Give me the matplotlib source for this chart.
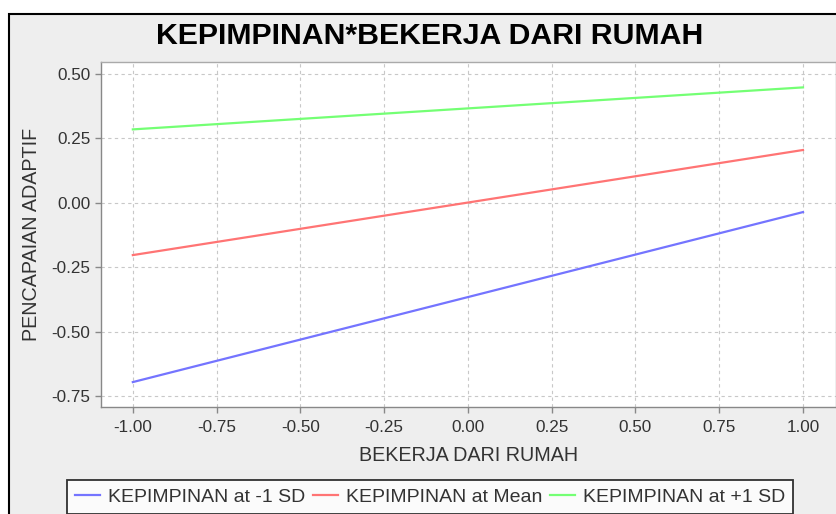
import numpy as np
import matplotlib.pyplot as plt
import matplotlib.patches as patches

plt.rcParams['font.family'] = ['Liberation Sans', 'DejaVu Sans']

# data
x_vals = [-1.0, 1.0]
low_sd = [-0.696, -0.036]
mean_sd = [-0.203, 0.205]
high_sd = [0.285, 0.448]
series_names = ['KEPIMPINAN at -1 SD', 'KEPIMPINAN at Mean', 'KEPIMPINAN at +1 SD']
x_ticks = [-1.0, -0.75, -0.5, -0.25, 0.0, 0.25, 0.5, 0.75, 1.0]
y_ticks = [-0.75, -0.5, -0.25, 0.0, 0.25, 0.5]

W, H = 837, 514
fig = plt.figure(figsize=(W / 100, H / 100), dpi=100)
fig.patch.set_facecolor('white')

# grey chart panel with black frame (runs off right/bottom edge)
frame = patches.Rectangle((9 / W, -0.1), 1.0, 1 - 14 / H + 0.1, transform=fig.transFigure,
                          facecolor='#eeeeee', edgecolor='black', linewidth=1.5, zorder=-10)
fig.patches.append(frame)

left, right, top, bottom = 101, 836, 62, 407
ax = fig.add_axes([left / W, 1 - bottom / H, (right - left) / W, (bottom - top) / H])
ax.set_facecolor('white')

colors = ['#7474ff', '#ff7474', '#74ff74']
for ys, c, name in zip([low_sd, mean_sd, high_sd], colors, series_names):
    ax.plot(x_vals, ys, color=c, linewidth=1.6, label=name)

ax.set_xlim(-1.095, 1.0985)
ax.set_ylim(-0.7927, 0.5466)
ax.set_xticks(x_ticks)
ax.set_yticks(y_ticks)
ax.set_xticklabels([f'{v:.2f}' for v in x_ticks])
ax.set_yticklabels([f'{v:.2f}' for v in y_ticks])
ax.grid(True, color='#c8c8c8', linestyle=(0, (3, 3)), linewidth=0.8)
ax.set_axisbelow(True)

for s in ax.spines.values():
    s.set_color('#aaaaaa')
    s.set_linewidth(1.0)
ax.spines['left'].set_color('#888888')
ax.spines['bottom'].set_color('#888888')
ax.tick_params(axis='both', colors='#888888', labelcolor='#333333', labelsize=12.3, length=4, width=1)
ax.tick_params(axis='x', pad=5)

ax.set_xlabel('BEKERJA DARI RUMAH', fontsize=14.2, color='#333333', labelpad=8)
ax.set_ylabel('PENCAPAIAN ADAPTIF', fontsize=14.2, color='#333333', labelpad=8)

fig.text(430 / W, 1 - 36 / H, 'KEPIMPINAN*BEKERJA DARI RUMAH', ha='center', va='center',
         fontsize=21.8, fontweight='bold', color='black')

leg = fig.legend(loc='upper center', bbox_to_anchor=(430 / W, 1 - 480 / H), ncol=3,
                 frameon=True, fancybox=False, fontsize=14, handlelength=1.3,
                 handletextpad=0.4, columnspacing=0.4, borderpad=0.42, borderaxespad=0)
leg.get_frame().set_edgecolor('black')
leg.get_frame().set_linewidth(1.3)
for t in leg.get_texts():
    t.set_color('#333333')

fig.savefig('out.png', dpi=100)
